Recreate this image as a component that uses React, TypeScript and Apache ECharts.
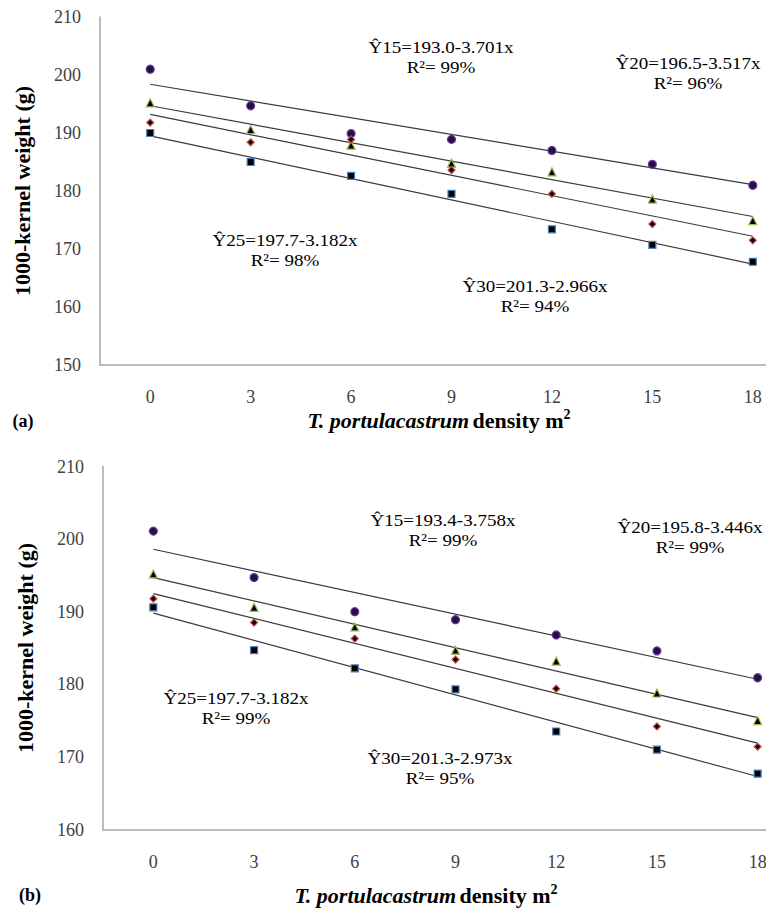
import React, { useEffect, useRef } from 'react';
import * as echarts from 'echarts';

const FONT = 'Liberation Serif';

// x categories (T. portulacastrum density)
const densities = ['0', '3', '6', '9', '12', '15', '18'];

// Panel (a) observed 1000-kernel weight (g)
const a15 = [201.0, 194.7, 189.9, 188.9, 187.0, 184.6, 181.0];
const a20 = [195.2, 190.6, 187.9, 184.8, 183.3, 178.6, 174.9];
const a25 = [191.8, 188.4, 188.9, 183.6, 179.5, 174.3, 171.5];
const a30 = [190.0, 185.0, 182.6, 179.5, 173.4, 170.7, 167.8];
// Panel (a) fitted lines, value at density 0 and at density 18
const aTrendStart = [198.4, 194.7, 193.2, 189.5];
const aTrendEnd = [181.1, 175.6, 172.2, 167.4];

// Panel (b)
const b15 = [201.1, 194.7, 190.0, 188.9, 186.8, 184.6, 180.9];
const b20 = [195.2, 190.6, 187.9, 184.7, 183.2, 178.8, 175.0];
const b25 = [191.8, 188.5, 186.3, 183.4, 179.4, 174.2, 171.4];
const b30 = [190.6, 184.7, 182.2, 179.3, 173.5, 171.0, 167.7];
const bTrendStart = [198.6, 194.7, 192.5, 189.8];
const bTrendEnd = [180.7, 175.4, 171.9, 167.3];

// Equation labels
const aEq = ['Ŷ15=193.0-3.701x', 'Ŷ20=196.5-3.517x', 'Ŷ25=197.7-3.182x', 'Ŷ30=201.3-2.966x'];
const aR2 = ['R²= 99%', 'R²= 96%', 'R²= 98%', 'R²= 94%'];
const bEq = ['Ŷ15=193.4-3.758x', 'Ŷ20=195.8-3.446x', 'Ŷ25=197.7-3.182x', 'Ŷ30=201.3-2.973x'];
const bR2 = ['R²= 99%', 'R²= 99%', 'R²= 99%', 'R²= 95%'];

// y axis ranges
const aYTicks = [150, 210];
const bYTicks = [160, 210];

// layout (pixels)
const aEqPos = [[441, 57], [688, 73], [285, 250], [535, 296]];
const bEqPos = [[443, 530], [690, 537], [236, 708], [440, 768]];

const markerStyles = [
  { symbol: 'circle', size: 8, color: '#1d1440', border: '#7030a0' },
  { symbol: 'triangle', size: 8, color: '#000000', border: '#9bbb59' },
  { symbol: 'diamond', size: 7, color: '#1a0000', border: '#c0504d' },
  { symbol: 'rect', size: 7, color: '#000000', border: '#4f81bd' },
];

function buildOption() {
  const panels = [
    { obs: [a15, a20, a25, a30], ts: aTrendStart, te: aTrendEnd },
    { obs: [b15, b20, b25, b30], ts: bTrendStart, te: bTrendEnd },
  ];
  const series: any[] = [];
  panels.forEach((p, pi) => {
    for (let k = 0; k < 4; k++) {
      series.push({
        type: 'line',
        xAxisIndex: pi,
        yAxisIndex: pi,
        data: [[densities[0], p.ts[k]], [densities[densities.length - 1], p.te[k]]],
        symbol: 'none',
        silent: true,
        lineStyle: { color: '#3a3a3a', width: 1.2 },
        z: 2,
      });
    }
    for (let k = 0; k < 4; k++) {
      const m = markerStyles[k];
      series.push({
        type: 'scatter',
        xAxisIndex: pi,
        yAxisIndex: pi,
        data: p.obs[k],
        symbol: m.symbol,
        symbolSize: m.size,
        itemStyle: { color: m.color, borderColor: m.border, borderWidth: 1.2, opacity: 1 },
        z: 3,
      });
    }
  });

  const axisLine = { show: true, lineStyle: { color: '#a6a6a6', width: 1.5 } };
  const xAxisBase = {
    type: 'category',
    data: densities,
    boundaryGap: true,
    axisLine,
    axisTick: { show: false },
    splitLine: { show: false },
    axisLabel: { fontFamily: FONT, fontSize: 18, color: '#404040', margin: 23 },
  };
  const yAxisBase = (rng: number[]) => ({
    type: 'value',
    min: rng[0],
    max: rng[1],
    interval: 10,
    axisLine,
    axisTick: { show: false },
    splitLine: { show: false },
    axisLabel: { fontFamily: FONT, fontSize: 18, color: '#404040', margin: 19 },
    name: '1000-kernel weight (g)',
    nameLocation: 'middle',
    nameGap: 67,
    nameTextStyle: { fontFamily: FONT, fontSize: 22, fontWeight: 'bold', color: '#000' },
  });

  const graphic: any[] = [];
  const eqText = (eq: string, r2: string, pos: number[]) => {
    graphic.push({
      type: 'text',
      x: pos[0],
      y: pos[1],
      scaleX: 1.12,
      silent: true,
      style: {
        text: eq + '\n' + r2,
        fontFamily: FONT,
        fontSize: 17,
        lineHeight: 20,
        fill: '#000',
        align: 'center',
        verticalAlign: 'middle',
      },
    });
  };
  aEq.forEach((e, i) => eqText(e, aR2[i], aEqPos[i]));
  bEq.forEach((e, i) => eqText(e, bR2[i], bEqPos[i]));

  const titleRich = {
    i: { fontFamily: FONT, fontSize: 22, fontWeight: 'bold', fontStyle: 'italic', fill: '#000' },
    b: { fontFamily: FONT, fontSize: 22, fontWeight: 'bold', fill: '#000' },
    s: { fontFamily: FONT, fontSize: 14, fontWeight: 'bold', fill: '#000', verticalAlign: 'top', padding: [0, 0, 12, 0] },
  };
  const xTitle = (x: number, y: number) => ({
    type: 'text',
    x,
    y,
    silent: true,
    style: {
      text: '{i|T. portulacastrum} {b|density m}{s|2}',
      rich: titleRich,
      align: 'center',
      verticalAlign: 'middle',
    },
  });
  graphic.push(xTitle(439, 420));
  graphic.push(xTitle(426, 895));
  graphic.push({
    type: 'text', x: 23, y: 421, silent: true,
    style: { text: '(a)', fontFamily: FONT, fontSize: 18, fontWeight: 'bold', fill: '#000', align: 'center', verticalAlign: 'middle' },
  });
  graphic.push({
    type: 'text', x: 30, y: 895, silent: true,
    style: { text: '(b)', fontFamily: FONT, fontSize: 18, fontWeight: 'bold', fill: '#000', align: 'center', verticalAlign: 'middle' },
  });

  return {
    animation: false,
    backgroundColor: '#ffffff',
    textStyle: { fontFamily: FONT },
    grid: [
      { left: 100, top: 17, width: 703, height: 348, outerBoundsMode: 'none', containLabel: false },
      { left: 103, top: 466.5, width: 705, height: 363, outerBoundsMode: 'none', containLabel: false },
    ],
    xAxis: [
      { ...xAxisBase, gridIndex: 0 },
      { ...xAxisBase, gridIndex: 1 },
    ],
    yAxis: [
      { ...yAxisBase(aYTicks), gridIndex: 0 },
      { ...yAxisBase(bYTicks), gridIndex: 1 },
    ],
    series,
    graphic,
  };
}

export default function App() {
  const ref = useRef<HTMLDivElement>(null);
  useEffect(() => {
    document.body.style.margin = '0';
    const chart = echarts.init(ref.current!, null, { renderer: 'svg' });
    chart.setOption(buildOption() as any);
    return () => chart.dispose();
  }, []);
  return <div ref={ref} style={{ width: 766, height: 909 }} />;
}
